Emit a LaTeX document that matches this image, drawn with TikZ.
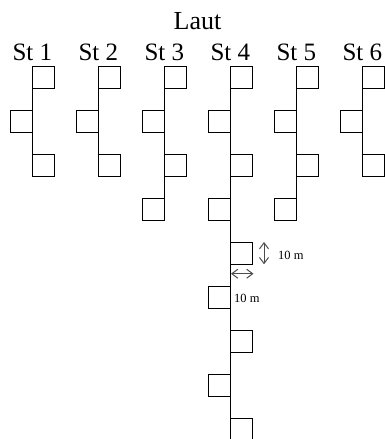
\documentclass[tikz,border=0pt]{standalone}
\usepackage{fontspec}
\setmainfont{Liberation Serif}
\usetikzlibrary{arrows.meta}
\begin{document}
\begin{tikzpicture}[x=1pt,y=-1pt,
  sq/.style={draw,line width=1.1pt,minimum size=22pt,inner sep=0pt,outer sep=0pt},
  rbox/.style={sq,anchor=north west},
  lbox/.style={sq,anchor=north east},
  stem/.style={line width=1.2pt},
  stlabel/.style={anchor=base,inner sep=0pt,font=\fontsize{25}{28}\selectfont},
  dimlabel/.style={anchor=base west,inner sep=0pt,font=\fontsize{12.5}{14}\selectfont},
  tipv/.style={Straight Barb[length=6pt,width=9pt,line width=1.1pt]},
  dimarrow/.style={draw=black!70,line width=1pt,{Straight Barb[length=6pt,width=9pt]}-{Straight Barb[length=6pt,width=9pt]}}]
\useasboundingbox (0,0) rectangle (385,439);
\node[anchor=base,inner sep=0pt,font=\fontsize{26}{30}\selectfont] (laut) at (197.5,29.3) {Laut};
% station labels
\foreach \i in {1,...,6}{
  \node[stlabel] (lab\i) at ({32.3+66*(\i-1)},60) {St \i};
}
% boxes: right (odd) and left (even), alternating down each station
\foreach \i/\n in {1/3,2/3,3/4,4/9,5/4,6/3}{
  \pgfmathsetmacro{\xx}{32.3+66*(\i-1)}
  \foreach \k in {1,...,\n}{
    \pgfmathtruncatemacro{\odd}{mod(\k,2)}
    \ifnum\odd=1
      \node[rbox] (b\i-\k) at (\xx,{66.3+44*(\k-1)}) {};
    \else
      \node[lbox] (b\i-\k) at (\xx,{66.3+44*(\k-1)}) {};
    \fi
  }
}
% stems
\draw[stem] (b1-1.north west) -- (b1-3.south west);
\draw[stem] (b2-1.north west) -- (b2-3.south west);
\draw[stem] (b3-1.north west) -- (b3-4.south east);
\coordinate (end4) at (230.3,439);
\draw[stem] (b4-1.north west) -- (end4);
\draw[stem] (b5-1.north west) -- (b5-4.south east);
\draw[stem] (b6-1.north west) -- (b6-3.south west);
% dimension arrows
\coordinate (va) at (264,242);
\coordinate (vb) at (264,264.3);
\draw[dimarrow] (va) -- (vb);
\coordinate (ha) at (231,273.7);
\coordinate (hb) at (253.5,273.7);
\draw[dimarrow] (ha) -- (hb);
\node[dimlabel] (d1) at (278,259) {10 m};
\node[dimlabel] (d2) at (234,302.7) {10 m};
\end{tikzpicture}
\end{document}
